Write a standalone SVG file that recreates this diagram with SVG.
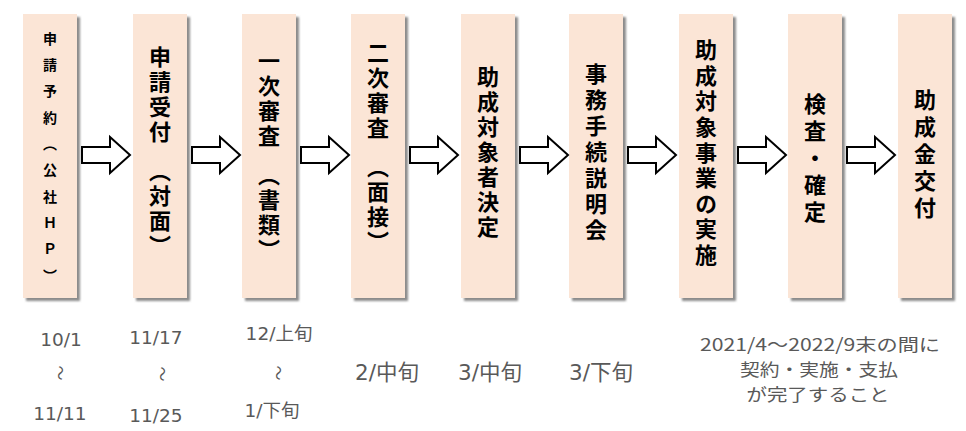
<svg xmlns="http://www.w3.org/2000/svg" width="966" height="431" viewBox="0 0 966 431">
<defs>
<filter id="sh" x="-20%" y="-5%" width="150%" height="115%">
<feDropShadow dx="3" dy="3" stdDeviation="1.2" flood-color="#7f7f7f" flood-opacity="0.9"/>
</filter>
</defs>
<style>
.box{fill:#FBE5D6;filter:url(#sh);}
.vt{font-family:"Noto Sans CJK JP","Noto Sans CJK SC",sans-serif;font-weight:bold;fill:#000;writing-mode:vertical-rl;text-anchor:middle;}
.arr{fill:#fff;stroke:#000;stroke-width:2;stroke-linejoin:miter;}
.lb{font-family:"DejaVu Sans","Noto Sans CJK JP",sans-serif;fill:#595959;text-anchor:middle;dominant-baseline:central;}
.ml{font-family:"Noto Sans CJK JP","Noto Sans CJK SC",sans-serif;fill:#595959;text-anchor:middle;dominant-baseline:central;}
.wv{font-family:"Noto Sans CJK JP",sans-serif;fill:#595959;text-anchor:middle;dominant-baseline:central;font-size:15px;}
</style>
<rect width="966" height="431" fill="#fff"/>
<g id="n1"><rect class="box" x="23" y="14" width="54" height="284"/><text class="vt" x="50" y="163" font-size="14" letter-spacing="12.3">申請予約（公社ＨＰ）</text></g>
<g id="n2"><rect class="box" x="133" y="14" width="54" height="284"/><text class="vt" x="160" y="153" font-size="22" letter-spacing="3">申請受付　（対面）</text></g>
<g id="n3"><rect class="box" x="242" y="14" width="54" height="284"/><text class="vt" x="269" y="157" font-size="22" letter-spacing="3">一次審査　（書類）</text></g>
<g id="n4"><rect class="box" x="351" y="14" width="54" height="284"/><text class="vt" x="378" y="149" font-size="22" letter-spacing="3">二次審査　（面接）</text></g>
<g id="n5"><rect class="box" x="461" y="14" width="54" height="284"/><text class="vt" x="488" y="153" font-size="22" letter-spacing="3">助成対象者決定</text></g>
<g id="n6"><rect class="box" x="569" y="14" width="54" height="284"/><text class="vt" x="596" y="154" font-size="22" letter-spacing="4">事務手続説明会</text></g>
<g id="n7"><rect class="box" x="679" y="14" width="54" height="284"/><text class="vt" x="706" y="154" font-size="22" letter-spacing="3.6">助成対象事業の実施</text></g>
<g id="n8"><rect class="box" x="788" y="14" width="54" height="284"/><text class="vt" x="815" y="160" font-size="22" letter-spacing="5">検査・確定</text></g>
<g id="n9"><rect class="box" x="898" y="14" width="54" height="284"/><text class="vt" x="925" y="156" font-size="22" letter-spacing="5">助成金交付</text></g>
<g id="connectors">
<path class="arr" d="M82,147H110V137L130,155L110,173V163H82Z"/>
<path class="arr" d="M192,147H220V137L240,155L220,173V163H192Z"/>
<path class="arr" d="M301,147H329V137L349,155L329,173V163H301Z"/>
<path class="arr" d="M410,147H438V137L458,155L438,173V163H410Z"/>
<path class="arr" d="M520,147H548V137L568,155L548,173V163H520Z"/>
<path class="arr" d="M628,147H656V137L676,155L656,173V163H628Z"/>
<path class="arr" d="M738,147H766V137L786,155L766,173V163H738Z"/>
<path class="arr" d="M847,147H875V137L895,155L875,173V163H847Z"/>
</g>
<g id="labels">
<text class="lb" x="61" y="339" font-size="18.5">10/1</text>
<text class="wv" transform="translate(61,373) rotate(90)">～</text>
<text class="lb" x="60" y="413" font-size="18.5">11/11</text>
<text class="lb" x="156" y="337" font-size="18.5">11/17</text>
<text class="wv" transform="translate(163,374) rotate(90)">～</text>
<text class="lb" x="156" y="415" font-size="18.5">11/25</text>
<text class="lb" x="279" y="333" font-size="18.5">12/上旬</text>
<text class="wv" transform="translate(279,373) rotate(90)">～</text>
<text class="lb" x="272" y="410" font-size="18.5">1/下旬</text>
<text class="lb" x="387" y="372" font-size="21.5">2/中旬</text>
<text class="lb" x="490" y="372" font-size="21.5">3/中旬</text>
<text class="lb" x="601" y="372" font-size="21.5">3/下旬</text>
<text class="ml" x="820" y="343" font-size="17.5" textLength="240" lengthAdjust="spacingAndGlyphs">2021/4～2022/9末の間に</text>
<text class="ml" x="819" y="368" font-size="17" textLength="158" lengthAdjust="spacingAndGlyphs">契約・実施・支払</text>
<text class="ml" x="818" y="393" font-size="17" textLength="143" lengthAdjust="spacingAndGlyphs">が完了すること</text>
</g>
</svg>
